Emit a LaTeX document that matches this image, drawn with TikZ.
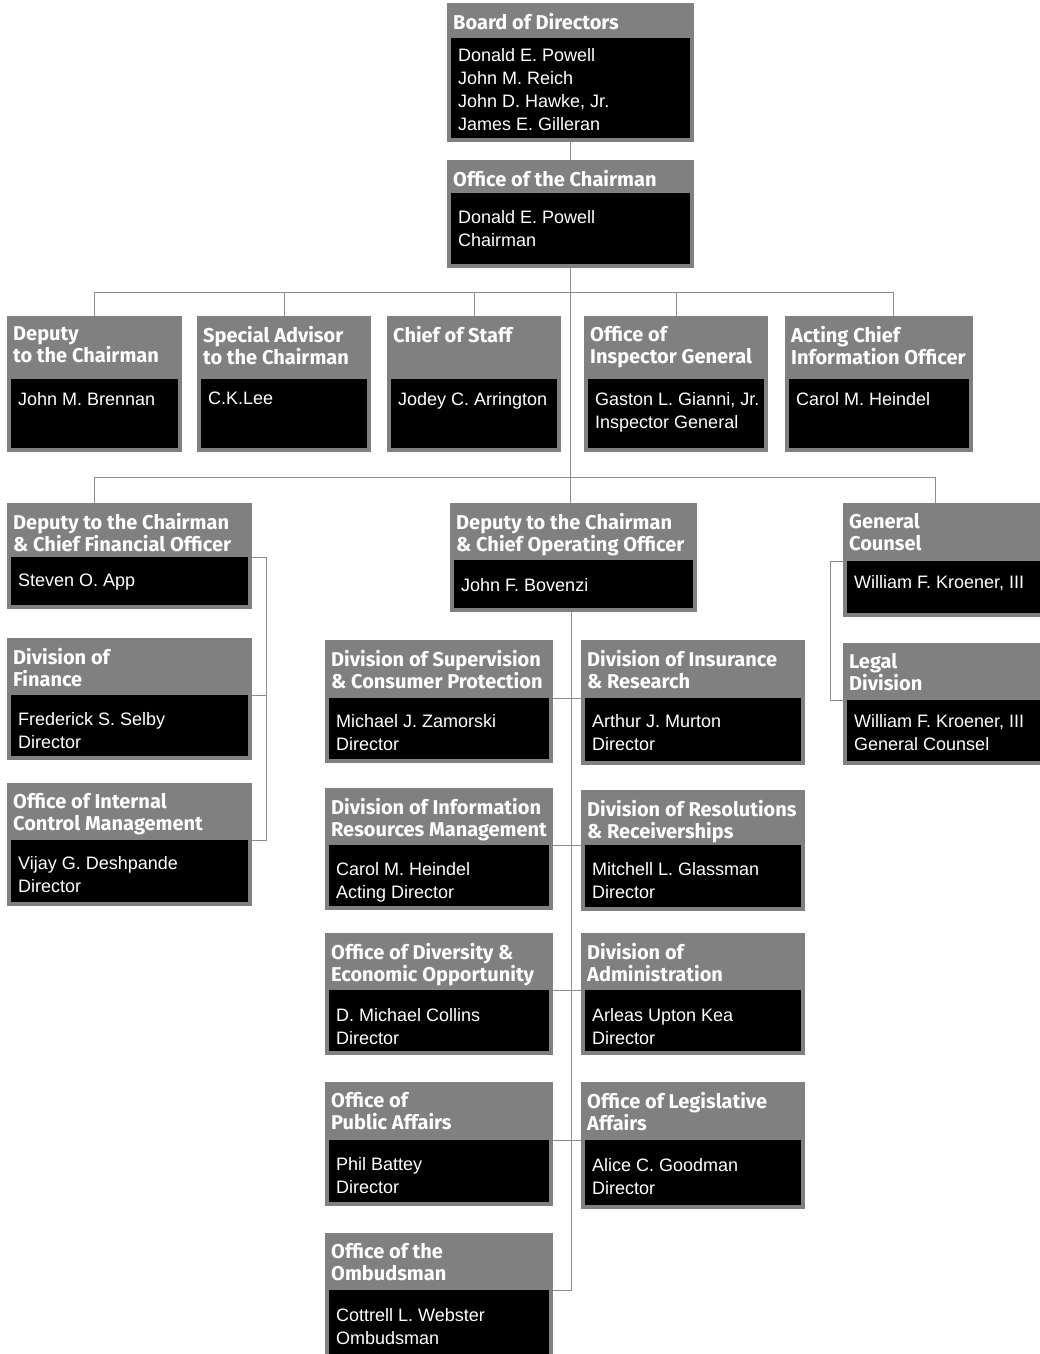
\documentclass[tikz,border=0pt]{standalone}
\usepackage{fontspec}
\setmainfont{Liberation Sans}
\newfontfamily\tfont{Fira Sans}
\definecolor{hdrgray}{RGB}{128,128,128}
\definecolor{linegray}{RGB}{140,140,140}
\tikzset{
  hdrbox/.style={draw=none, fill=hdrgray, inner sep=0pt, outer sep=0pt, rectangle},
  bodybox/.style={draw=none, fill=black, inner sep=0pt, outer sep=0pt, rectangle},
  ttl/.style={text=white, inner sep=0pt, anchor=north west, align=left, font=\tfont\bfseries\fontsize{20}{22}\selectfont},
  btxt/.style={text=white, inner sep=0pt, anchor=north west, align=left, font=\fontsize{18}{23}\selectfont},
  conn/.style={draw=linegray, line width=1pt},
}
\newcommand\orgbox[9]{%
  \pgfmathsetmacro\oxc{(#2+#4)/2}%
  \pgfmathsetmacro\oyc{(#3+#5)/2}%
  \pgfmathsetmacro\oww{#4-#2}%
  \pgfmathsetmacro\ohh{#5-#3}%
  \pgfmathsetmacro\obyc{(#6+#5-4)/2}%
  \pgfmathsetmacro\obh{#5-4-#6}%
  \pgfmathsetmacro\obw{#4-#2-8}%
  \node[hdrbox, minimum width=\oww pt, minimum height=\ohh pt] (#1) at (\oxc,\oyc) {};
  \node[bodybox, minimum width=\obw pt, minimum height=\obh pt] (#1-b) at (\oxc,\obyc) {};
  \node[ttl] (#1-t) at (#2+6,#3+10) {#7};
  \node[btxt] (#1-x) at (#2+11,#6+#9-13) {#8};
}
\begin{document}
\begin{tikzpicture}[x=1pt,y=-1pt]
\useasboundingbox (0,0) rectangle (1040,1354);
\clip (0,0) rectangle (1040,1354);
\fill[white] (0,0) rectangle (1040,1354);

% top
\orgbox{board}{447}{3}{694}{142}{38}{Board of Directors}{Donald E. Powell\\John M. Reich\\John D. Hawke, Jr.\\James E. Gilleran}{23}
\orgbox{chair}{447}{160}{694}{268}{193}{Office of the Chairman}{Donald E. Powell\\Chairman}{30}

% first row
\orgbox{dep}{7}{316}{182}{452}{379}{Deputy\\to the Chairman}{John M. Brennan}{26}
\orgbox{adv}{197}{316}{371}{452}{379}{Special Advisor\\to the Chairman}{C.K.Lee}{26}
\orgbox{cos}{387}{316}{561}{452}{379}{Chief of Staff}{Jodey C. Arrington}{26}
\orgbox{oig}{584}{316}{768}{452}{379}{Office of\\Inspector General}{Gaston L. Gianni, Jr.\\Inspector General}{26}
\orgbox{cio}{785}{316}{973}{452}{379}{Acting Chief\\Information Officer}{Carol M. Heindel}{26}

% left column
\orgbox{cfo}{7}{503}{252}{609}{557}{Deputy to the Chairman\\\& Chief Financial Officer}{Steven O. App}{30}
\orgbox{fin}{7}{638}{252}{760}{695}{Division of\\Finance}{Frederick S. Selby\\Director}{30}
\orgbox{icm}{7}{783}{252}{906}{840}{Office of Internal\\Control Management}{Vijay G. Deshpande\\Director}{29}

% centre
\orgbox{coo}{450}{503}{697}{612}{560}{Deputy to the Chairman\\\& Chief Operating Officer}{John F. Bovenzi}{31}
\orgbox{sup}{325}{640}{553}{763}{698}{Division of Supervision\\\& Consumer Protection}{Michael J. Zamorski\\Director}{29}
\orgbox{ins}{581}{640}{805}{765}{698}{Division of Insurance\\\& Research}{Arthur J. Murton\\Director}{29}
\orgbox{irm}{325}{788}{553}{910}{845}{Division of Information\\Resources Management}{Carol M. Heindel\\Acting Director}{30}
\orgbox{res}{581}{790}{805}{911}{845}{Division of Resolutions\\\& Receiverships}{Mitchell L. Glassman\\Director}{30}
\orgbox{div}{325}{933}{553}{1055}{990}{Office of Diversity \&\\Economic Opportunity}{D. Michael Collins\\Director}{31}
\orgbox{adm}{581}{933}{805}{1055}{990}{Division of\\Administration}{Arleas Upton Kea\\Director}{31}
\orgbox{pub}{325}{1082}{553}{1206}{1140}{Office of\\Public Affairs}{Phil Battey\\Director}{30}
\orgbox{leg}{581}{1082}{805}{1209}{1140}{Office of Legislative\\Affairs}{Alice C. Goodman\\Director}{31}
\orgbox{omb}{325}{1233}{553}{1358}{1290}{Office of the\\Ombudsman}{Cottrell L. Webster\\Ombudsman}{31}

% right column
\orgbox{gc}{843}{503}{1046}{617}{561}{General\\Counsel}{William F. Kroener, III}{27}
\orgbox{legal}{843}{643}{1046}{765}{700}{Legal\\Division}{William F. Kroener, III\\General Counsel}{27}

% connectors
\coordinate (bus1) at (572,292);
\coordinate (bus2) at (572,477);
\coordinate (cioin) at ([xshift=14pt]cio.north);
\coordinate (cfoin) at ([xshift=-35pt]cfo.north);
\coordinate (gcin) at ([xshift=-9.5pt]gc.north);
\coordinate (cfobr) at (266,0);
\coordinate (gcbr) at (830,0);
\coordinate (spine) at ([xshift=-2pt]coo.south);

\draw[conn] (board.south) -- (chair.north);
\draw[conn] (chair.south) -- (chair.south |- coo.north);
\draw[conn] (dep.north) -- (dep.north |- bus1) -- (cioin |- bus1) -- (cioin);
\draw[conn] (adv.north) -- (adv.north |- bus1);
\draw[conn] (cos.north) -- (cos.north |- bus1);
\draw[conn] (oig.north) -- (oig.north |- bus1);
\draw[conn] (cfoin) -- (cfoin |- bus2) -- (gcin |- bus2) -- (gcin);

\draw[conn] (cfo.east |- cfo-b.north) -- (cfobr |- cfo-b.north) -- (cfobr |- icm-b.north) -- (icm.east |- icm-b.north);
\draw[conn] (fin.east |- fin-b.north) -- (cfobr |- fin-b.north);

\draw[conn] (spine) -- (spine |- omb-b.north) -- (omb.east |- omb-b.north);
\draw[conn] (sup.east |- sup-b.north) -- (ins.west |- sup-b.north);
\draw[conn] (irm.east |- irm-b.north) -- (res.west |- irm-b.north);
\draw[conn] (div.east |- div-b.north) -- (adm.west |- div-b.north);
\draw[conn] (pub.east |- pub-b.north) -- (leg.west |- pub-b.north);

\draw[conn] (gc.west |- gc-b.north) -- (gcbr |- gc-b.north) -- (gcbr |- legal-b.north) -- (legal.west |- legal-b.north);
\end{tikzpicture}
\end{document}
